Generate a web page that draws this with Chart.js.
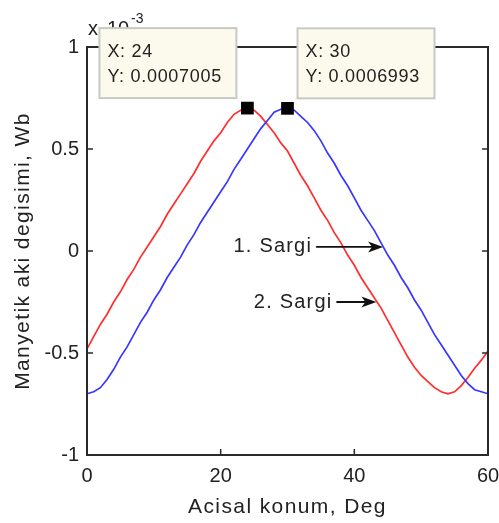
<!DOCTYPE html>
<html>
<head>
<meta charset="utf-8">
<script src="https://cdn.jsdelivr.net/npm/chart.js@4/dist/chart.umd.min.js"></script>
<style>
  html, body { margin: 0; padding: 0; background: #ffffff; }
  canvas { display: block; }
</style>
</head>
<body>
<canvas id="chart" width="499" height="523"></canvas>
<script>
// Rotor angle, degrees
const angles = [
  0, 1, 2, 3, 4, 5, 6, 7, 8, 9, 10, 11, 12, 13, 14, 15, 16, 17, 18, 19, 20,
  21, 22, 23, 24, 25, 26, 27, 28, 29, 30, 31, 32, 33, 34, 35, 36, 37, 38, 39, 40,
  41, 42, 43, 44, 45, 46, 47, 48, 49, 50, 51, 52, 53, 54, 55, 56, 57, 58, 59, 60
];

// Flux linkage of winding 1 (x 10^-3 Wb)
const sargi1 = [
  -0.70, -0.69, -0.67, -0.63, -0.58, -0.52, -0.47, -0.41, -0.35, -0.30, -0.24,
  -0.19, -0.13, -0.08, -0.03, 0.03, 0.08, 0.14, 0.19, 0.24, 0.29,
  0.34, 0.40, 0.45, 0.50, 0.55, 0.60, 0.64, 0.68, 0.695, 0.6993,
  0.69, 0.66, 0.63, 0.59, 0.54, 0.48, 0.43, 0.37, 0.32, 0.26,
  0.20, 0.15, 0.10, 0.04, -0.02, -0.07, -0.13, -0.18, -0.24, -0.29,
  -0.35, -0.41, -0.46, -0.51, -0.56, -0.61, -0.65, -0.68, -0.69, -0.70
];

// Flux linkage of winding 2 (x 10^-3 Wb)
const sargi2 = [
  -0.48, -0.42, -0.36, -0.31, -0.25, -0.20, -0.14, -0.09, -0.03, 0.02, 0.07,
  0.12, 0.18, 0.23, 0.28, 0.33, 0.38, 0.44, 0.49, 0.54, 0.58,
  0.63, 0.67, 0.69, 0.7005, 0.69, 0.66, 0.62, 0.58, 0.53, 0.49,
  0.43, 0.37, 0.32, 0.26, 0.20, 0.15, 0.09, 0.04, -0.02, -0.07,
  -0.13, -0.18, -0.23, -0.28, -0.34, -0.40, -0.46, -0.52, -0.57, -0.61,
  -0.64, -0.67, -0.69, -0.70, -0.69, -0.66, -0.62, -0.575, -0.535, -0.49
];

// Data cursors (x in degrees, y in x 10^-3 Wb)
const tipX = [24, 30];
const tipY = [0.7005, 0.6993];

// Axis ticks
const xTicks = [0, 20, 40, 60];
const yTicks = [-1, -0.5, 0, 0.5, 1];

// Curve labels and the points their arrows touch
const noteText = ['1. Sargi', '2. Sargi'];
const noteX = [44.3, 43.3];
const noteY = [0.02, -0.25];

const FONT = '"Liberation Sans", Arial, Helvetica, sans-serif';
const INK = '#222222';

function toPoints(xs, ys) { return xs.map((v, i) => ({ x: v, y: ys[i] })); }

function drawArrow(ctx, x0, x1, yPix) {
  ctx.beginPath();
  ctx.moveTo(x0, yPix);
  ctx.lineTo(x1 - 8, yPix);
  ctx.stroke();
  ctx.beginPath();
  ctx.moveTo(x1, yPix);
  ctx.lineTo(x1 - 15, yPix - 5.5);
  ctx.lineTo(x1 - 11, yPix);
  ctx.lineTo(x1 - 15, yPix + 5.5);
  ctx.closePath();
  ctx.fill();
}

const decorations = {
  id: 'decorations',
  afterDraw(chart) {
    const { ctx, chartArea: a, scales: { x, y } } = chart;
    ctx.save();

    // axes box
    ctx.strokeStyle = '#2a2a2a';
    ctx.lineWidth = 2;
    ctx.strokeRect(a.left, a.top, a.right - a.left, a.bottom - a.top);

    // inward tick marks on all four sides
    const tl = 6;
    ctx.lineWidth = 1.5;
    ctx.beginPath();
    xTicks.forEach(v => {
      if (v <= x.min || v >= x.max) return;
      const p = x.getPixelForValue(v);
      ctx.moveTo(p, a.bottom); ctx.lineTo(p, a.bottom - tl);
      ctx.moveTo(p, a.top); ctx.lineTo(p, a.top + tl);
    });
    yTicks.forEach(v => {
      if (v <= y.min || v >= y.max) return;
      const p = y.getPixelForValue(v);
      ctx.moveTo(a.left, p); ctx.lineTo(a.left + tl, p);
      ctx.moveTo(a.right, p); ctx.lineTo(a.right - tl, p);
    });
    ctx.stroke();

    // exponent label
    ctx.fillStyle = INK;
    ctx.textAlign = 'left';
    ctx.textBaseline = 'alphabetic';
    ctx.font = '20px ' + FONT;
    ctx.fillText('x', a.left + 1, 35);
    ctx.fillText('10', a.left + 20, 35);
    ctx.font = '14px ' + FONT;
    ctx.fillText('-3', a.left + 44, 23);

    // data cursor boxes
    const w = 137, h = 70;
    tipX.forEach((tx, i) => {
      const px = x.getPixelForValue(tx);
      const py = y.getPixelForValue(tipY[i]);
      const bx = i === 0 ? px - 11 - w : px + 10;
      const by = py - 10 - h;
      ctx.fillStyle = '#fbfaec';
      ctx.fillRect(bx, by, w, h);
      ctx.strokeStyle = '#c9c9c4';
      ctx.lineWidth = 2;
      ctx.strokeRect(bx, by, w, h);
      ctx.fillStyle = INK;
      ctx.font = '18px ' + FONT;
      ctx.letterSpacing = '0.7px';
      ctx.textAlign = 'left';
      ctx.textBaseline = 'alphabetic';
      ctx.fillText('X: ' + tx, bx + 8, by + 29);
      ctx.fillText('Y: ' + (tipY[i] / 1000).toFixed(7), bx + 8, by + 54);
      ctx.letterSpacing = '0px';
    });

    // curve labels with arrows
    const tails = [67, 40];
    ctx.strokeStyle = '#111111';
    ctx.lineWidth = 1.8;
    noteText.forEach((t, i) => {
      const px = x.getPixelForValue(noteX[i]);
      const py = y.getPixelForValue(noteY[i]);
      const x0 = px - tails[i];
      ctx.fillStyle = '#111111';
      drawArrow(ctx, x0, px, py);
      ctx.fillStyle = INK;
      ctx.font = '20px ' + FONT;
      ctx.letterSpacing = '1.2px';
      ctx.textAlign = 'right';
      ctx.textBaseline = 'middle';
      ctx.fillText(t, x0 - 4, py);
      ctx.letterSpacing = '0px';
    });

    // axis titles
    ctx.fillStyle = INK;
    ctx.font = '21px ' + FONT;
    ctx.letterSpacing = '1.4px';
    ctx.textAlign = 'center';
    ctx.textBaseline = 'alphabetic';
    ctx.fillText('Acisal konum, Deg', (a.left + a.right) / 2, 513);
    ctx.translate(29, (a.top + a.bottom) / 2);
    ctx.rotate(-Math.PI / 2);
    ctx.fillText('Manyetik aki degisimi, Wb', 0, 0);
    ctx.letterSpacing = '0px';

    ctx.restore();
  }
};

new Chart(document.getElementById('chart'), {
  type: 'line',
  data: {
    datasets: [
      {
        label: 'Data cursor',
        type: 'scatter',
        data: toPoints(tipX, tipY),
        pointStyle: 'rect',
        pointRadius: 9,
        pointHoverRadius: 9,
        backgroundColor: '#000000',
        borderColor: '#000000',
        borderWidth: 0,
        order: 0
      },
      {
        label: '1. Sargi',
        data: toPoints(angles, sargi1),
        borderColor: 'rgb(55, 55, 255)',
        borderWidth: 1.7,
        pointRadius: 0,
        tension: 0,
        fill: false,
        order: 1
      },
      {
        label: '2. Sargi',
        data: toPoints(angles, sargi2),
        borderColor: 'rgb(255, 45, 45)',
        borderWidth: 1.7,
        pointRadius: 0,
        tension: 0,
        fill: false,
        order: 2
      }
    ]
  },
  options: {
    responsive: false,
    animation: false,
    devicePixelRatio: 1,
    layout: { padding: { left: 0, top: 47, right: 11, bottom: 0 } },
    plugins: { legend: { display: false }, tooltip: { enabled: false } },
    events: [],
    scales: {
      x: {
        type: 'linear',
        min: 0,
        max: 60,
        afterBuildTicks: s => { s.ticks = xTicks.map(v => ({ value: v })); },
        afterFit: s => { s.height = 68; s.paddingLeft = 0; s.paddingRight = 0; },
        grid: { display: false, drawTicks: false },
        border: { display: false },
        ticks: {
          padding: 9,
          color: INK,
          font: { family: FONT, size: 20 },
          maxRotation: 0,
          callback: v => String(v)
        }
      },
      y: {
        type: 'linear',
        min: -1,
        max: 1,
        afterBuildTicks: s => { s.ticks = yTicks.map(v => ({ value: v })); },
        afterFit: s => { s.width = 87; s.paddingTop = 0; s.paddingBottom = 0; },
        grid: { display: false, drawTicks: false },
        border: { display: false },
        ticks: {
          padding: 8,
          color: INK,
          font: { family: FONT, size: 20 },
          callback: v => String(v)
        }
      }
    }
  },
  plugins: [decorations]
});
</script>
</body>
</html>
